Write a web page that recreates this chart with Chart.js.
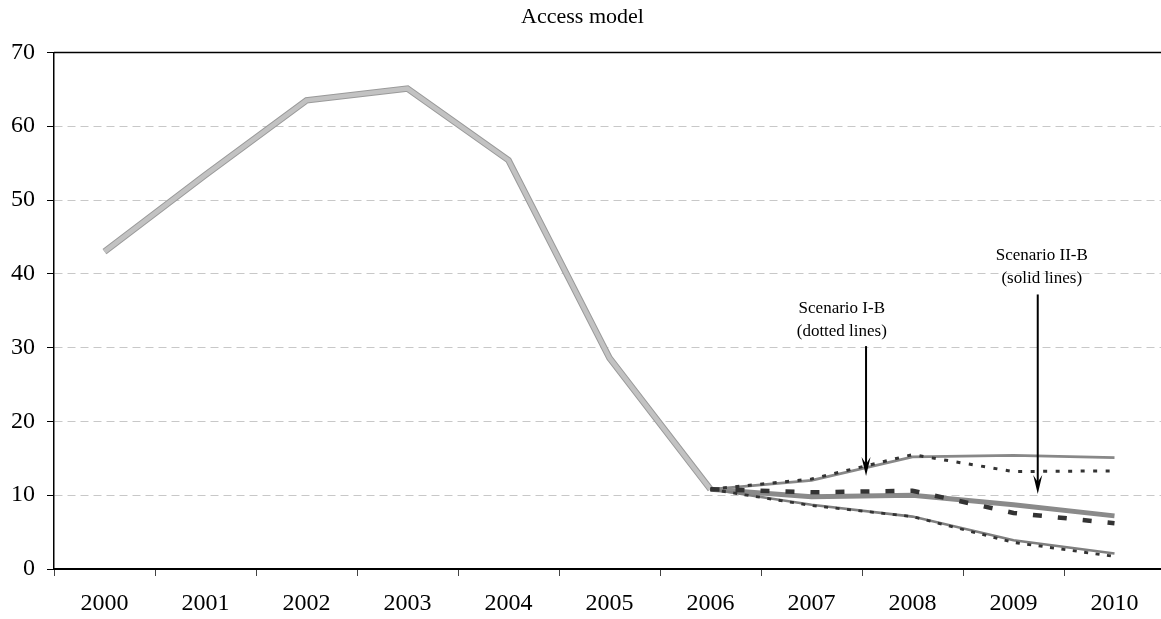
<!DOCTYPE html>
<html>
<head>
<meta charset="utf-8">
<script src="https://cdn.jsdelivr.net/npm/chart.js@4/dist/chart.umd.min.js"></script>
<style>
  html, body { margin: 0; padding: 0; background: #fff; overflow: hidden; }
  #wrap { width: 1170px; height: 619px; }
</style>
</head>
<body>
<div id="wrap"><canvas id="c" width="1170" height="619"></canvas></div>
<script>
// Years on the horizontal axis
const years = ['2000', '2001', '2002', '2003', '2004', '2005', '2006', '2007', '2008', '2009', '2010'];

// Observed path up to 2006
const historical = [43.0, 53.4, 63.5, 65.1, 55.4, 28.6, 10.8, null, null, null, null];

// Scenario II-B projections (solid lines)
const scen2Upper = [null, null, null, null, null, null, 10.8, 12.0, 15.2, 15.4, 15.1];
const scen2Mid   = [null, null, null, null, null, null, 10.8, 9.8, 10.0, 8.7, 7.2];
const scen2Lower = [null, null, null, null, null, null, 10.8, 8.7, 7.1, 3.9, 2.1];

// Scenario I-B projections (dotted lines)
const scen1Upper = [null, null, null, null, null, null, 10.8, 12.2, 15.5, 13.2, 13.3];
const scen1Mid   = [null, null, null, null, null, null, 10.8, 10.4, 10.6, 7.6, 6.2];
const scen1Lower = [null, null, null, null, null, null, 10.8, 8.6, 7.1, 3.6, 1.7];

// Y axis range
const yMin = 0, yMax = 70, yStep = 10;

// Callout labels with arrows, in axis units (x as a fractional category index)
const callouts = [
  { lines: ['Scenario I-B', '(dotted lines)'], textX: 7.30, textY: 35.3, arrowX: 7.54, arrowFrom: 30.2, arrowTo: 12.6 },
  { lines: ['Scenario II-B', '(solid lines)'], textX: 9.28, textY: 42.5, arrowX: 9.24, arrowFrom: 37.2, arrowTo: 10.15 }
];

const SERIF = "'Liberation Serif', 'Times New Roman', 'DejaVu Serif', serif";

function xAt(scale, v) {
  const i = Math.floor(v);
  const f = v - i;
  const a = scale.getPixelForValue(i);
  const b = scale.getPixelForValue(i + 1);
  return a + f * (b - a);
}

const frameAndCallouts = {
  id: 'frameAndCallouts',
  afterDatasetsDraw(chart) {
    const ctx = chart.ctx;
    const xs = chart.scales.x, ys = chart.scales.y;
    const area = chart.chartArea;
    ctx.save();
    // top frame line
    ctx.strokeStyle = '#000';
    ctx.lineWidth = 1.5;
    ctx.beginPath();
    ctx.moveTo(area.left, area.top);
    ctx.lineTo(area.right, area.top);
    ctx.stroke();

    callouts.forEach(c => {
      const tx = xAt(xs, c.textX);
      const ty = ys.getPixelForValue(c.textY);
      ctx.fillStyle = '#000';
      ctx.font = '17px ' + SERIF;
      ctx.textAlign = 'center';
      ctx.textBaseline = 'middle';
      c.lines.forEach((t, k) => ctx.fillText(t, tx, ty + k * 23));

      const ax = xAt(xs, c.arrowX);
      const y0 = ys.getPixelForValue(c.arrowFrom);
      const y1 = ys.getPixelForValue(c.arrowTo);
      ctx.strokeStyle = '#000';
      ctx.lineWidth = 2;
      ctx.beginPath();
      ctx.moveTo(ax, y0);
      ctx.lineTo(ax, y1 - 10);
      ctx.stroke();
      ctx.beginPath();
      ctx.moveTo(ax, y1);
      ctx.lineTo(ax - 4.5, y1 - 19);
      ctx.lineTo(ax, y1 - 12);
      ctx.lineTo(ax + 4.5, y1 - 19);
      ctx.closePath();
      ctx.fill();
    });
    ctx.restore();
  }
};

function line(data, color, width, dash, order) {
  return {
    data, borderColor: color, borderWidth: width, borderDash: dash || [],
    pointRadius: 0, pointHoverRadius: 0, tension: 0, fill: false,
    borderCapStyle: 'butt', borderJoinStyle: 'miter', order
  };
}

new Chart(document.getElementById('c'), {
  type: 'line',
  data: {
    labels: years,
    datasets: [
      line(historical, '#9a9a9a', 6.5, null, 9),
      line(historical, '#c2c2c2', 4.5, null, 8),
      line(scen2Upper, '#888888', 2.8, null, 7),
      line(scen2Mid, '#8a8a8a', 5, null, 6),
      line(scen2Lower, '#7f7f7f', 2.6, null, 5),
      line(scen1Mid, '#333333', 4.5, [9, 16], 3),
      line(scen1Upper, '#333333', 3, [4, 8.5], 2),
      line(scen1Lower, '#333333', 2.8, [4, 7.5], 1)
    ]
  },
  options: {
    responsive: false,
    animation: false,
    events: [],
    layout: { padding: { left: 0, right: 5, top: 0, bottom: 0 } },
    plugins: {
      legend: { display: false },
      tooltip: { enabled: false },
      title: {
        display: true,
        text: 'Access model',
        color: '#000',
        font: { family: SERIF, size: 22, weight: 'normal' },
        padding: { top: 4, bottom: 22 }
      }
    },
    scales: {
      x: {
        offset: true,
        afterFit(s) { s.height = 50; },
        grid: {
          offset: true,
          drawOnChartArea: false,
          drawTicks: true,
          tickLength: 7,
          tickColor: '#444'
        },
        border: { display: true, color: '#000', width: 2 },
        ticks: {
          color: '#000',
          padding: 13,
          maxRotation: 0,
          autoSkip: false,
          font: { family: SERIF, size: 24 }
        }
      },
      y: {
        min: yMin, max: yMax,
        afterFit(s) { s.width = 54; },
        grid: {
          color: ctx => (ctx.tick && ctx.tick.value === yMax) ? 'rgba(0,0,0,0)' : '#c8c8c8',
          lineWidth: 1,
          drawTicks: true,
          tickLength: 7,
          tickColor: '#000'
        },
        border: { display: true, color: '#000', width: 1.5, dash: [8, 5] },
        ticks: {
          stepSize: yStep,
          color: '#000',
          padding: 12,
          font: { family: SERIF, size: 24 }
        }
      }
    }
  },
  plugins: [frameAndCallouts]
});
</script>
</body>
</html>
